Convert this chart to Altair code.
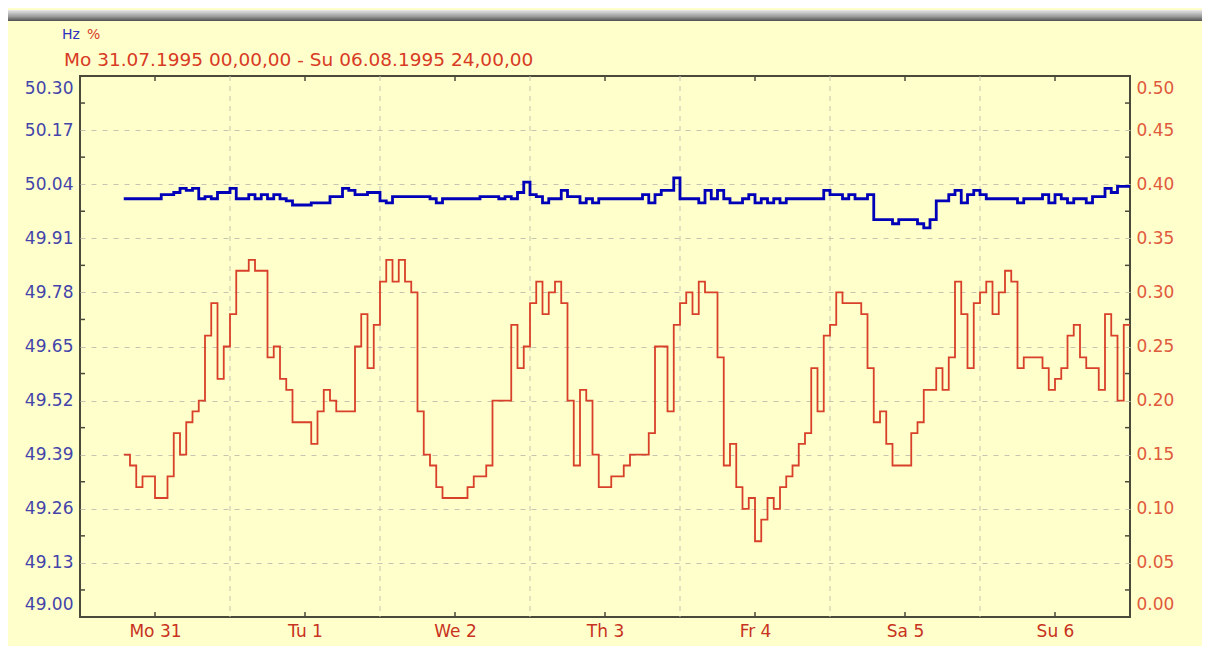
import json
import altair as alt
import pandas as pd

# ---------------- data ----------------
day_labels = ["Mo 31", "Tu 1", "We 2", "Th 3", "Fr 4", "Sa 5", "Su 6"]
first_hour = 7  # Monday 07:00, hourly values

hz_values = [
    50.005, 50.005, 50.005, 50.005, 50.005, 50.005, 50.015, 50.015, 50.02, 50.03,
    50.025, 50.03, 50.005, 50.01, 50.005, 50.02, 50.02, 50.03, 50.005, 50.005,
    50.015, 50.005, 50.015, 50.005, 50.015, 50.005, 50.0, 49.99, 49.99, 49.99,
    49.995, 49.995, 49.995, 50.01, 50.01, 50.03, 50.025, 50.015, 50.015, 50.02,
    50.02, 50.0, 49.995, 50.01, 50.01, 50.01, 50.01, 50.01, 50.01, 50.005,
    49.995, 50.005, 50.005, 50.005, 50.005, 50.005, 50.005, 50.01, 50.01, 50.01,
    50.005, 50.01, 50.005, 50.02, 50.045, 50.015, 50.01, 49.995, 50.005, 50.005,
    50.025, 50.01, 50.01, 49.995, 50.005, 49.995, 50.005, 50.005, 50.005, 50.005,
    50.005, 50.005, 50.005, 50.015, 49.995, 50.015, 50.025, 50.025, 50.055, 50.005,
    50.005, 50.005, 49.995, 50.025, 50.005, 50.025, 50.005, 49.995, 49.995, 50.005,
    50.015, 49.995, 50.005, 49.995, 50.005, 49.995, 50.005, 50.005, 50.005, 50.005,
    50.005, 50.005, 50.025, 50.015, 50.015, 50.005, 50.015, 50.005, 50.005, 50.015,
    49.955, 49.955, 49.955, 49.945, 49.955, 49.955, 49.955, 49.945, 49.935, 49.955,
    50.0, 50.0, 50.015, 50.025, 49.995, 50.015, 50.025, 50.015, 50.005, 50.005,
    50.005, 50.005, 50.005, 49.995, 50.005, 50.005, 50.005, 50.015, 49.995, 50.015,
    50.005, 49.995, 50.005, 50.005, 49.995, 50.01, 50.01, 50.03, 50.02, 50.035,
    50.035,
]

pct_values = [
    0.15, 0.14, 0.12, 0.13, 0.13, 0.11, 0.11, 0.13, 0.17, 0.15,
    0.18, 0.19, 0.20, 0.26, 0.29, 0.22, 0.25, 0.28, 0.32, 0.32,
    0.33, 0.32, 0.32, 0.24, 0.25, 0.22, 0.21, 0.18, 0.18, 0.18,
    0.16, 0.19, 0.21, 0.20, 0.19, 0.19, 0.19, 0.25, 0.28, 0.23,
    0.27, 0.31, 0.33, 0.31, 0.33, 0.31, 0.30, 0.19, 0.15, 0.14,
    0.12, 0.11, 0.11, 0.11, 0.11, 0.12, 0.13, 0.13, 0.14, 0.20,
    0.20, 0.20, 0.27, 0.23, 0.25, 0.29, 0.31, 0.28, 0.30, 0.31,
    0.29, 0.20, 0.14, 0.21, 0.20, 0.15, 0.12, 0.12, 0.13, 0.13,
    0.14, 0.15, 0.15, 0.15, 0.17, 0.25, 0.25, 0.19, 0.27, 0.29,
    0.30, 0.28, 0.31, 0.30, 0.30, 0.24, 0.14, 0.16, 0.12, 0.10,
    0.11, 0.07, 0.09, 0.11, 0.10, 0.12, 0.13, 0.14, 0.16, 0.17,
    0.23, 0.19, 0.26, 0.27, 0.30, 0.29, 0.29, 0.29, 0.28, 0.23,
    0.18, 0.19, 0.16, 0.14, 0.14, 0.14, 0.17, 0.18, 0.21, 0.21,
    0.23, 0.21, 0.24, 0.31, 0.28, 0.23, 0.29, 0.30, 0.31, 0.28,
    0.30, 0.32, 0.31, 0.23, 0.24, 0.24, 0.24, 0.23, 0.21, 0.22,
    0.23, 0.26, 0.27, 0.24, 0.23, 0.23, 0.21, 0.28, 0.26, 0.20,
    0.27,
]

hz_ticks = [49.00, 49.13, 49.26, 49.39, 49.52, 49.65, 49.78, 49.91, 50.04, 50.17, 50.30]
pct_ticks = [0.00, 0.05, 0.10, 0.15, 0.20, 0.25, 0.30, 0.35, 0.40, 0.45, 0.50]

title_unit_hz = "Hz"
title_unit_pct = "%"
title_range = "Mo 31.07.1995 00,00,00 - Su 06.08.1995 24,00,00"

# ---------------- derived tables ----------------
n_days = len(day_labels)
hours = list(range(first_hour, first_hour + len(hz_values)))
# the last hourly step is held to the end of the period
series = pd.DataFrame({
    "hour": hours + [hours[-1] + 1],
    "hz": hz_values + [hz_values[-1]],
    "pct": pct_values + [pct_values[-1]],
})
noons = pd.DataFrame({"hour": [24 * d + 12 for d in range(n_days)]})
midnights = pd.DataFrame({"hour": [24 * d for d in range(1, n_days)]})
hz_minor = pd.DataFrame({"hz": [(a + b) / 2 for a, b in zip(hz_ticks[:-1], hz_ticks[1:])]})
pct_minor = pd.DataFrame({"pct": [(a + b) / 2 for a, b in zip(pct_ticks[:-1], pct_ticks[1:])]})

# ---------------- style ----------------
W, H = 1050, 541
BG = "#FFFFCC"
FRAME = "#4A4A3A"
GRID = "#C4C4B0"
BLUE = "#0000B8"
RED = "#D8402A"
HZ_LABEL = "#4444AA"
PCT_LABEL = "#E05A3C"
X_LABEL = "#C83220"
FONT = "DejaVu Sans"
FS = 17

x_scale = alt.Scale(domain=[0, 24 * n_days], nice=False, zero=False)
hz_scale = alt.Scale(domain=[hz_ticks[0], hz_ticks[-1]], nice=False, zero=False)
pct_scale = alt.Scale(domain=[pct_ticks[0], pct_ticks[-1]], nice=False, zero=False)

label_expr = json.dumps(day_labels) + "[floor(datum.value / 24)]"
edge_expr = f"datum.value <= {hz_ticks[0] + 0.001} || datum.value >= {hz_ticks[-1] - 0.001} ? 0 : 1"

x_axis = alt.Axis(
    values=noons["hour"].tolist(), labelExpr=label_expr, title=None,
    ticks=False, grid=False, domain=False, labelColor=X_LABEL,
    labelFont=FONT, labelFontSize=FS, labelPadding=6,
)
hz_axis = alt.Axis(
    orient="left", values=hz_ticks, format=".2f", title=None,
    ticks=False, domain=False, grid=True, gridColor=GRID, gridDash=[5, 6],
    gridOpacity=alt.ExprRef(expr=edge_expr),
    labelColor=HZ_LABEL, labelFont=FONT, labelFontSize=FS, labelPadding=7,
    labelFlush=True, labelFlushOffset=-4,
)
pct_axis = alt.Axis(
    orient="right", values=pct_ticks, format=".2f", title=None,
    ticks=False, domain=False, grid=False,
    labelColor=PCT_LABEL, labelFont=FONT, labelFontSize=FS, labelPadding=6,
    labelFlush=True, labelFlushOffset=-4,
)
X = lambda: alt.X("hour:Q", scale=x_scale, axis=x_axis)

# top window band
band = alt.Chart(pd.DataFrame({"k": [0]})).mark_rect(
    color=alt.LinearGradient(
        gradient="linear",
        stops=[alt.GradientStop(color="#E8E8E8", offset=0),
               alt.GradientStop(color="#9A9A9A", offset=0.6),
               alt.GradientStop(color="#505050", offset=1)],
        x1=0, x2=0, y1=0, y2=1,
    )
).encode(x=alt.value(-74), x2=alt.value(W + 80), y=alt.value(-66), y2=alt.value(-55))

vgrid = alt.Chart(midnights).mark_rule(color=GRID, strokeDash=[5, 5], strokeWidth=1).encode(x=X())
xtick_top = alt.Chart(noons).mark_rule(color=FRAME, strokeWidth=1.5).encode(
    x=X(), y=alt.value(0), y2=alt.value(5)
)
xtick_bot = alt.Chart(noons).mark_rule(color=FRAME, strokeWidth=1.5).encode(
    x=X(), y=alt.value(H - 5), y2=alt.value(H)
)
hz_minor_ticks = alt.Chart(hz_minor).mark_rule(color=FRAME, strokeWidth=1.5).encode(
    y=alt.Y("hz:Q", scale=hz_scale, axis=hz_axis), x=alt.value(0), x2=alt.value(5)
)
pct_minor_ticks = alt.Chart(pct_minor).mark_rule(color=FRAME, strokeWidth=1.5).encode(
    y=alt.Y("pct:Q", scale=pct_scale, axis=pct_axis), x=alt.value(W - 5), x2=alt.value(W)
)

blue = alt.Chart(series).mark_line(
    interpolate="step-after", color=BLUE, strokeWidth=2.8
).encode(x=X(), y=alt.Y("hz:Q", scale=hz_scale, axis=hz_axis))

red = alt.Chart(series).mark_line(
    interpolate="step-after", color=RED, strokeWidth=1.8
).encode(x=X(), y=alt.Y("pct:Q", scale=pct_scale, axis=pct_axis))

t1 = alt.Chart(pd.DataFrame({"t": [title_unit_hz]})).mark_text(
    align="left", baseline="middle", font=FONT, fontSize=14, color="#3030C0"
).encode(text="t:N", x=alt.value(-18), y=alt.value(-41))
t2 = alt.Chart(pd.DataFrame({"t": [title_unit_pct]})).mark_text(
    align="left", baseline="middle", font=FONT, fontSize=14, color="#D83A24"
).encode(text="t:N", x=alt.value(7), y=alt.value(-41))
t3 = alt.Chart(pd.DataFrame({"t": [title_range]})).mark_text(
    align="left", baseline="middle", font=FONT, fontSize=18.5, color="#D83A24"
).encode(text="t:N", x=alt.value(-16), y=alt.value(-16))

hz_layer = alt.layer(band, vgrid, xtick_top, xtick_bot, hz_minor_ticks, t1, t2, t3, blue)
pct_layer = alt.layer(pct_minor_ticks, red)

chart = alt.layer(hz_layer, pct_layer).resolve_scale(y="independent").properties(
    width=W, height=H,
    autosize=alt.AutoSizeParams(type="none"),
    padding={"left": 72, "top": 68, "right": 72, "bottom": 29},
    background=BG,
).configure_view(stroke=FRAME, strokeWidth=2, fill=BG)

chart.save("out.html", embed_options={"renderer": "svg", "actions": False})
